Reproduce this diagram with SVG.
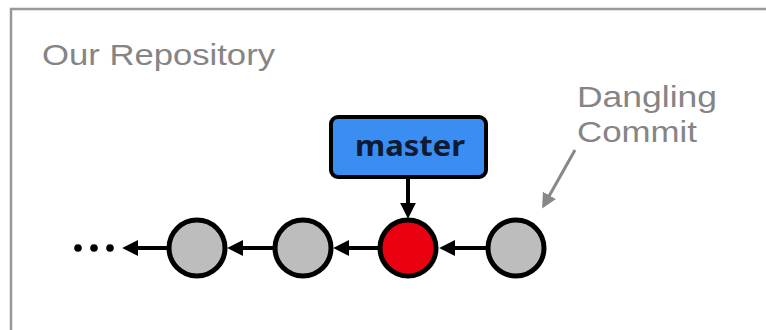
<svg xmlns="http://www.w3.org/2000/svg" width="766" height="330" viewBox="0 0 766 330">
<style>
.label{font-family:"Liberation Sans",Arial,sans-serif;fill:#858585;font-size:30px}
.commit{stroke:#000;stroke-width:5}
.grey{fill:#bdbdbd}
.edge{stroke:#000;stroke-width:4;fill:none}
</style>
<defs>
<marker id="ah" viewBox="0 0 10 10" refX="2" refY="5" markerWidth="4" markerHeight="4" orient="auto" markerUnits="strokeWidth">
<path d="M0,0 L10,5 L0,10 Z" fill="#000"/>
</marker>
<marker id="ahg" viewBox="0 0 10 10" refX="2" refY="5" markerWidth="5" markerHeight="5" orient="auto" markerUnits="strokeWidth">
<path d="M0,0 L10,5 L0,10 Z" fill="#888"/>
</marker>
</defs>
<rect width="766" height="330" fill="#fff"/>
<path d="M11,330 V9 H766" fill="none" stroke="#999" stroke-width="2.5"/>
<text class="label" x="42" y="65" textLength="233" lengthAdjust="spacingAndGlyphs">Our Repository</text>
<g id="dangling-label">
<text class="label" x="577" y="107" textLength="140" lengthAdjust="spacingAndGlyphs">Dangling</text>
<text class="label" x="577" y="142" textLength="120" lengthAdjust="spacingAndGlyphs">Commit</text>
</g>
<g id="connectors">
<g id="dots" fill="#000">
<circle cx="78" cy="248" r="3.8"/>
<circle cx="94" cy="248" r="3.8"/>
<circle cx="110" cy="248" r="3.8"/>
</g>
<line class="edge" x1="167" y1="248" x2="135" y2="248" marker-end="url(#ah)"/>
<line class="edge" x1="273" y1="248" x2="240" y2="248" marker-end="url(#ah)"/>
<line class="edge" x1="379" y1="248" x2="346" y2="248" marker-end="url(#ah)"/>
<line class="edge" x1="486" y1="248" x2="452" y2="248" marker-end="url(#ah)"/>
<line class="edge" x1="408" y1="179" x2="408" y2="206" marker-end="url(#ah)"/>
<line x1="575" y1="150" x2="548" y2="198" stroke="#888" stroke-width="3" marker-end="url(#ahg)"/>
</g>
<g id="c1"><circle class="commit grey" cx="197" cy="248" r="28"/></g>
<g id="c2"><circle class="commit grey" cx="303" cy="248" r="28"/></g>
<g id="c3"><circle class="commit" fill="#ea0010" cx="408" cy="248" r="28"/></g>
<g id="c4"><circle class="commit grey" cx="516" cy="248" r="28"/></g>
<g id="master">
<rect x="331" y="117" width="155" height="60" rx="7" fill="#3a8ef2" stroke="#000" stroke-width="4"/>
<text x="410" y="156" text-anchor="middle" font-family="'Noto Sans','Liberation Sans',sans-serif" font-weight="bold" font-size="29" fill="#0e1b33" textLength="110" lengthAdjust="spacingAndGlyphs">master</text>
</g>
</svg>
